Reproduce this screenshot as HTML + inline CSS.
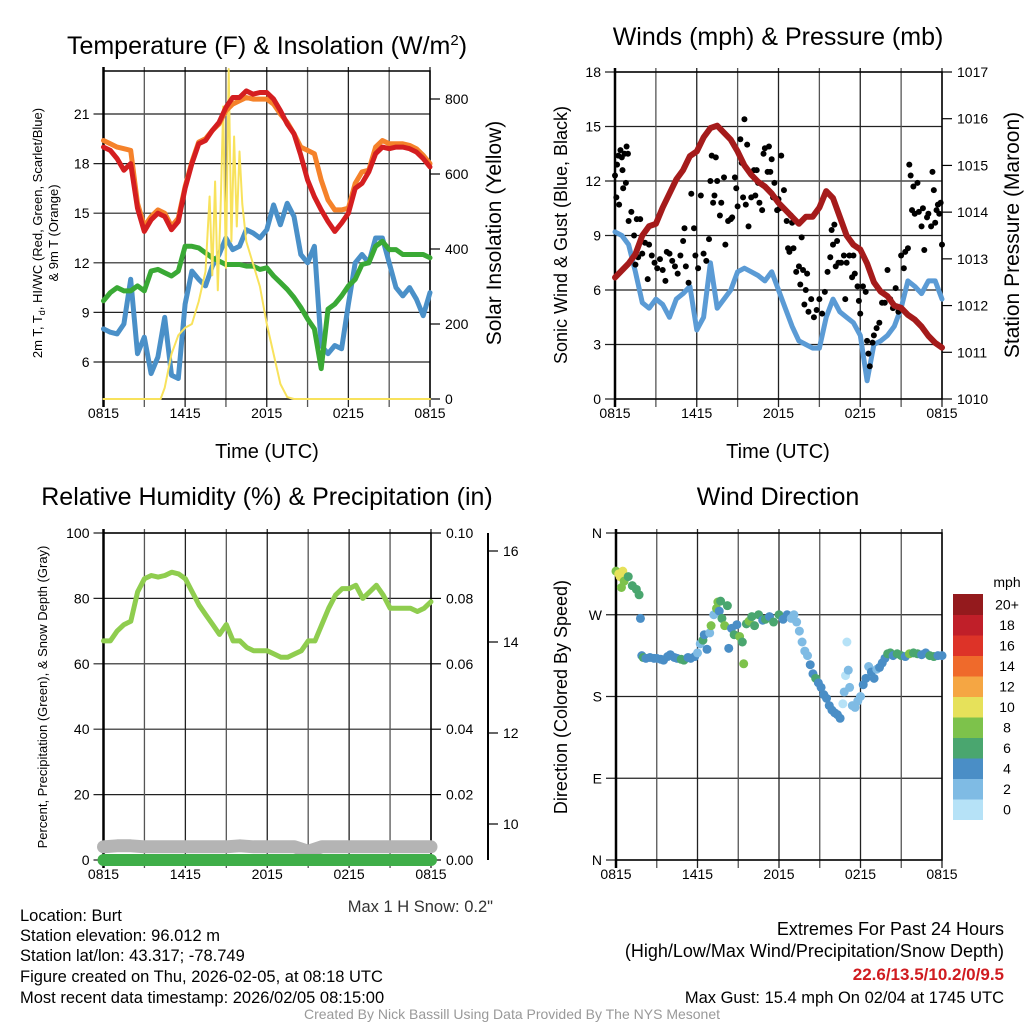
<!DOCTYPE html>
<html><head><meta charset="utf-8"><title>Burt Meteogram</title>
<style>
html,body{margin:0;padding:0;background:#fff;}
svg{display:block;font-family:"Liberation Sans",Arial,sans-serif;}
</style></head>
<body>
<svg id="root" width="1024" height="1024" viewBox="0 0 1024 1024" xmlns="http://www.w3.org/2000/svg">
<rect x="0" y="0" width="1024" height="1024" fill="#fff"/>
<g fill="#000">
<g font-size="16.5" textLength="0">
<text x="20" y="921">Location: Burt</text>
<text x="20" y="941">Station elevation: 96.012 m</text>
<text x="20" y="961">Station lat/lon: 43.317; -78.749</text>
<text x="20" y="982">Figure created on Thu, 2026-02-05, at 08:18 UTC</text>
<text x="20" y="1003">Most recent data timestamp: 2026/02/05 08:15:00</text>
</g>
<g font-size="18">
<text x="1004" y="935" text-anchor="end">Extremes For Past 24 Hours</text>
<text x="1004" y="957" text-anchor="end">(High/Low/Max Wind/Precipitation/Snow Depth)</text>
<text x="1004" y="980" text-anchor="end" fill="#d01c20" font-weight="bold" font-size="17">22.6/13.5/10.2/0/9.5</text>
<text x="1004" y="1003" text-anchor="end" font-size="16.5">Max Gust: 15.4 mph On 02/04 at 1745 UTC</text>
</g>
<text x="493" y="912" text-anchor="end" fill="#333" font-size="16.5">Max 1 H Snow: 0.2"</text>
<text x="512" y="1019" text-anchor="middle" fill="#999" font-size="14">Created By Nick Bassill Using Data Provided By The NYS Mesonet</text>
</g>
</svg>
<script>
// ---------- data ----------
const xTickLabels = ["0815","1415","2015","0215","0815"];
const tempRed = [19.0,18.8,18.3,17.6,18.0,15.3,13.9,14.6,15.0,14.8,14.0,14.5,16.5,18.0,19.2,19.4,20.0,20.5,21.4,22.0,22.0,22.4,22.2,22.3,22.3,21.9,21.2,20.4,19.8,18.5,17.0,16.0,15.2,14.5,13.9,14.4,15.0,16.5,16.8,17.5,18.6,19.0,18.9,19.0,19.0,18.9,18.7,18.3,17.8];
const temp9m = [19.4,19.2,19.0,18.9,18.8,15.6,14.2,14.8,15.2,15.0,14.2,14.7,16.6,18.1,19.3,19.5,20.0,20.4,21.2,21.6,21.8,22.0,21.9,21.9,21.9,21.6,21.0,20.5,19.8,19.0,18.8,18.6,17.0,15.8,15.2,15.2,15.3,16.8,17.5,17.6,19.0,19.4,19.2,19.2,19.2,19.1,18.9,18.5,18.0];
const dewGreen = [9.7,10.2,10.5,10.3,10.3,10.6,10.3,11.5,11.6,11.4,11.2,11.5,13.0,13.0,12.9,12.6,12.3,12.1,11.9,11.9,11.9,11.8,11.8,11.6,11.7,11.2,10.8,10.4,9.9,9.3,8.6,8.0,5.6,9.2,9.5,10.0,10.6,11.0,11.9,12.0,13.0,13.3,12.8,12.8,12.5,12.5,12.5,12.5,12.3];
const windChill = [8.0,7.8,7.7,8.3,11.0,6.5,7.5,5.3,6.3,8.7,5.2,5.0,9.5,11.5,11.0,10.6,11.8,12.5,13.5,12.8,13.0,14.0,13.8,13.5,14.0,15.5,14.3,15.6,14.8,12.5,12.0,13.0,7.0,6.5,7.0,6.8,9.5,12.0,12.5,12.0,13.5,13.5,12.0,10.5,10.0,10.5,9.8,8.8,10.2];
const solarHours = [0,4.2,4.5,5,5.5,6,6.5,7,7.5,7.8,8,8.2,8.4,8.6,8.8,9,9.2,9.4,9.6,9.8,10,10.2,10.5,11,11.5,12,12.5,13,13.5,14,24];
const solarVals = [0,0,30,120,170,190,200,260,340,540,330,580,290,500,780,350,880,420,700,460,660,520,420,360,300,200,120,40,5,0,0];
const windSpeed = [9.2,9.0,8.5,7.0,5.3,5.0,5.5,5.2,4.5,5.5,5.8,6.2,3.8,4.5,7.5,5.0,5.5,6.0,7.0,7.2,7.0,6.8,6.5,7.0,6.0,5.0,4.0,3.2,3.0,2.8,2.8,4.5,5.5,4.8,4.5,4.2,3.5,1.0,3.0,3.2,3.5,4.0,5.0,6.5,6.2,5.8,6.5,6.5,5.5];
const pressure = [1012.6,1012.75,1012.9,1013.1,1013.5,1013.7,1013.75,1014.1,1014.4,1014.7,1014.9,1015.2,1015.3,1015.6,1015.8,1015.85,1015.7,1015.55,1015.3,1015.0,1014.8,1014.65,1014.55,1014.4,1014.2,1014.05,1013.9,1013.75,1013.9,1013.9,1014.1,1014.45,1014.3,1013.9,1013.5,1013.3,1013.2,1012.9,1012.5,1012.3,1012.2,1012.0,1011.95,1011.8,1011.7,1011.55,1011.35,1011.2,1011.1];
const gustHours = [0,0.1,0.15,0.25,0.3,0.4,0.5,0.55,0.6,0.7,0.8,0.85,0.95,1.0,1.2,1.4,1.5,1.6,1.7,1.85,2.0,2.2,2.4,2.5,2.7,2.9,3.1,3.3,3.5,3.7,3.8,4.0,4.2,4.4,4.6,4.8,5.0,5.1,5.2,5.4,5.6,5.8,5.9,6.1,6.3,6.5,6.7,6.9,7.0,7.1,7.2,7.3,7.4,7.5,7.7,7.8,8.0,8.1,8.3,8.5,8.6,8.8,8.9,9.0,9.2,9.3,9.4,9.5,9.6,9.7,9.8,10.0,10.2,10.3,10.4,10.5,10.6,10.8,10.9,11.0,11.2,11.3,11.4,11.5,11.6,11.7,11.9,12.0,12.1,12.2,12.4,12.6,12.7,12.8,12.9,13.0,13.1,13.3,13.5,13.6,13.7,13.8,13.9,14.0,14.1,14.2,14.4,14.6,14.8,15.0,15.2,15.4,15.6,15.8,15.9,16.0,16.1,16.2,16.3,16.4,16.6,16.8,16.9,17.0,17.2,17.4,17.5,17.6,17.8,17.9,18.0,18.2,18.4,18.5,18.6,18.7,18.9,19.0,19.2,19.4,19.6,19.8,20.0,20.2,20.4,20.6,20.8,21.0,21.2,21.3,21.5,21.6,21.7,21.8,21.9,22.0,22.2,22.3,22.5,22.6,22.7,22.9,23.0,23.2,23.3,23.4,23.5,23.6,23.7,23.8,23.9,24.0];
const gustVals = [12.3,11.1,12.9,13.4,10.7,13.7,13.3,12.6,11.6,13.5,11.9,13.9,13.5,9.8,10.3,9.0,7.4,9.9,7.8,9.9,8.0,8.6,6.6,8.5,7.9,7.5,7.2,7.7,7.1,6.5,8.1,8.0,7.6,7.3,6.9,7.9,8.7,9.4,7.3,6.4,11.3,9.4,7.9,7.2,11.2,8.0,7.6,8.8,12.0,13.4,10.8,11.2,13.3,12.0,10.1,10.8,12.2,8.5,9.8,9.9,10.0,12.2,11.6,10.6,14.3,13.0,11.1,15.4,10.7,14.0,9.5,11.1,12.6,11.2,12.6,11.9,10.8,10.4,13.5,13.8,12.5,13.9,12.5,13.2,11.1,11.9,10.4,11.0,10.5,13.4,11.5,9.8,8.3,8.1,10.1,9.7,8.3,7.0,7.3,6.3,8.9,7.1,5.2,6.0,6.9,4.8,5.5,4.5,4.9,5.5,4.7,5.9,7.0,7.8,9.3,8.5,9.6,7.3,8.7,7.5,7.5,7.9,5.5,7.5,7.9,6.7,7.9,6.9,6.2,5.4,4.7,6.2,5.9,3.2,2.5,1.8,3.1,3.5,3.9,4.2,5.3,5.3,7.1,5.5,5.0,6.1,4.8,7.9,7.2,8.1,8.3,12.9,12.3,10.4,11.7,10.2,11.9,10.3,9.5,10.5,8.2,10.0,10.2,9.5,12.5,11.5,9.7,10.4,10.7,10.2,10.8,8.5];
const rhVals = [67,67,70,72,73,82,86,87,86.5,87,88,87.5,86,82,78,75,72,69,72,67,67,65,64,64,64,63,62,62,63,64,67,67,72,77,81,83,83,84,80,82,84,81,77,77,77,77,76,77,79];
const precipVals = [0,0,0,0,0,0,0,0,0,0,0,0,0,0,0,0,0,0,0,0,0,0,0,0,0];
const snowDepth = [9.5,9.52,9.52,9.5,9.5,9.5,9.5,9.5,9.5,9.5,9.52,9.5,9.5,9.5,9.5,9.4,9.5,9.5,9.5,9.5,9.5,9.5,9.5,9.5,9.5];
const dirHours = [0.0,0.2,0.3,0.5,0.6,0.4,0.9,1.2,1.5,1.7,1.8,1.9,2.0,2.2,2.5,2.8,3.0,3.3,3.5,3.8,4.0,4.3,4.5,4.8,5.0,5.3,5.5,5.8,6.0,6.2,6.4,6.5,6.7,6.9,7.0,7.2,7.4,7.5,7.6,7.7,7.8,8.0,8.2,8.3,8.5,8.7,8.9,9.1,9.3,9.4,9.6,9.8,10.0,10.2,10.5,10.8,11.0,11.3,11.6,12.0,12.3,12.6,12.9,13.1,13.3,13.5,13.7,13.9,14.1,14.3,14.5,14.7,14.9,15.1,15.3,15.5,15.7,15.9,16.1,16.3,16.5,16.7,16.8,16.9,17.0,17.1,17.2,17.4,17.6,17.8,18.0,18.2,18.4,18.6,18.8,19.0,19.2,19.4,19.6,19.8,20.0,20.2,20.4,20.7,21.0,21.3,21.6,21.9,22.2,22.5,22.8,23.1,23.4,23.7,24.0];
const dirDeg = [318,315,312,318,307,300,312,302,298,292,266,225,223,222,223,222,222,221,220,224,226,223,222,221,220,223,222,224,228,238,242,248,232,250,258,270,277,284,274,285,266,258,280,233,255,248,259,246,240,216,260,263,268,258,270,264,265,268,262,270,265,270,266,270,262,252,240,230,225,215,205,200,195,190,182,178,170,165,162,160,156,172,185,203,240,209,190,170,168,175,180,193,200,213,207,200,210,212,217,222,227,228,225,227,225,224,227,228,227,226,228,225,224,225,225];
const dirSpeed = [9,10,10,11,8,8,7,6,6,6,4,5,6,5,5,5,5,4,4,4,4,5,5,6,6,5,5,4,3,2,7,4,4,3,8,2,8,8,4,6,6,8,6,4,4,6,5,8,7,8,6,8,6,6,6,5,6,5,6,6,4,4,3,2,3,3,2,2,3,4,4,6,5,4,4,4,4,4,4,4,4,1,2,1,1,2,2,2,2,2,2,4,4,3,4,4,3,4,4,5,6,7,5,6,6,5,8,6,6,5,5,6,6,5,4];
const speedColors = ["#b6e2f7","#7fbbe4","#4a8ec6","#4aa66f","#7dc24b","#e6e15a","#f5a643","#ef6a2b","#dd3328","#c01f29","#941a1d"];
const speedLabels = ["0","2","4","6","8","10","12","14","16","18","20+"];

// ---------- helpers ----------
const NS = "http://www.w3.org/2000/svg";
const root = document.getElementById("root");
function mk(tag, attrs, parent){ const e=document.createElementNS(NS,tag); for(const k in attrs) e.setAttribute(k,attrs[k]); (parent||root).appendChild(e); return e; }
function lin(d0,d1,r0,r1){ return v => r0+(v-d0)*(r1-r0)/(d1-d0); }
function half(i){ return i*0.5; }
function pathFrom(hs, vs, sx, sy){ return vs.map((v,i)=>(i?"L":"M")+sx(hs[i]).toFixed(1)+","+sy(v).toFixed(1)).join(""); }

function frame(p){
  const g = mk("g",{});
  
  
  p.yTicks.forEach(v=>{
    const l = mk("line",{x1:p.x0-10,x2:p.x1,y1:p.sy(v),y2:p.sy(v),stroke:"#222","stroke-width":1.2},g);
    
    
    const t = mk("text",{x:p.x0-14,y:p.sy(v)+5,"text-anchor":"end","font-size":14},g);
    t.textContent = p.yFmt ? p.yFmt(v) : v;
    
    
  });
  for(let h=0; h<=24; h+=3){
    const l = mk("line",{x1:p.sx(h),x2:p.sx(h),y1:p.y0-4,y2:p.y1+8,stroke:(h%6? "#555":"#222"),"stroke-width":1.3},g);
    
    
  }
  xTickLabels.forEach((s,i)=>{
    const t = mk("text",{x:p.sx(i*6),y:p.y1+19,"text-anchor":"middle","font-size":14},g);
    t.textContent = s;
    
    
  });
  const b = mk("rect",{x:p.x0,y:p.y0,width:p.x1-p.x0,height:p.y1-p.y0,fill:"none",stroke:"#000","stroke-width":1.5},g);
  
  
  const lb = mk("line",{x1:p.x0,x2:p.x0,y1:p.y0-4,y2:p.y1+8,stroke:"#000","stroke-width":2.5},g);
  
  
  return g;
}
function rightAxis(x, y0, y1, ticks, sy, fmt, name){
  const g = mk("g",{});
  
  
  ticks.forEach(v=>{
    const l = mk("line",{x1:x,x2:x+10,y1:sy(v),y2:sy(v),stroke:"#000","stroke-width":1.2},g);
    
    
    const t = mk("text",{x:x+15,y:sy(v)+5,"font-size":14},g);
    t.textContent = fmt(v);
    
    
  });
  return g;
}
function title(x,y,txt,name,size){
  const t = mk("text",{x:x,y:y,"text-anchor":"middle","font-size":size||23});
  t.textContent = txt;
  
  
  return t;
}
function vlabel(x,y,txt,name,size){
  const t = mk("text",{x:x,y:y,"text-anchor":"middle","font-size":size,transform:"rotate(-90 "+x+" "+y+")"});
  t.textContent = txt;
  
  
  return t;
}
function line(hs, vs, sx, sy, color, w, name){
  const p = mk("path",{d:pathFrom(hs,vs,sx,sy),fill:"none",stroke:color,"stroke-width":w,"stroke-linejoin":"round","stroke-linecap":"round"});
  
  
  return p;
}
const hh49 = tempRed.map((_,i)=>half(i));

// ---------- Panel 1: temperature ----------
(function(){
  const x0=103.5,x1=430,y0=71,y1=399;
  const sx = lin(0,24,x0,x1), sy = lin(6,21,362,114), sr = lin(0,800,399,99);
  frame({name:"temperature",x0,x1,y0,y1,sx,sy,yTicks:[6,9,12,15,18,21]});
  rightAxis(x1,y0,y1,[0,200,400,600,800],sr,v=>v,"solar-axis");
  const tt = title(267,54,"Temperature (F) & Insolation (W/m","temperature-title",25);
  const sup = mk("tspan",{dy:-9,"font-size":15},tt); sup.textContent="2";
  const cl = mk("tspan",{dy:9},tt); cl.textContent=")";
  line(hh49,windChill,sx,sy,"#4a90c8",5,"windchill-line");
  line(hh49,dewGreen,sx,sy,"#3aa935",5,"dewpoint-line");
  line(solarHours,solarVals,sx,sr,"#f8e25c",2,"solar-line");
  line(hh49,temp9m,sx,sy,"#f5822a",5,"temp-9m-line");
  line(hh49,tempRed,sx,sy,"#d41e20",5,"temp-2m-line");
  title(267,458,"Time (UTC)","temperature-x-title",20);
  const yl = vlabel(42,233,"2m T, T","temperature-y-title",13);
  const sd = mk("tspan",{dy:3,"font-size":9},yl); sd.textContent="d";
  const rest = mk("tspan",{dy:-3},yl); rest.textContent=", HI/WC (Red, Green, Scarlet/Blue)";
  vlabel(58,233,"& 9m T (Orange)","temperature-y-title-2",13);
  vlabel(501,233,"Solar Insolation (Yellow)","solar-y-title",21);
})();

// ---------- Panel 2: winds ----------
(function(){
  const x0=615,x1=942,y0=72,y1=399;
  const sx = lin(0,24,x0,x1), sy = lin(0,18,399,72), sp = lin(1010,1017,399,72);
  frame({name:"winds",x0,x1,y0,y1,sx,sy,yTicks:[0,3,6,9,12,15,18]});
  rightAxis(x1,y0,y1,[1010,1011,1012,1013,1014,1015,1016,1017],sp,v=>v,"pressure-axis");
  title(778,45,"Winds (mph) & Pressure (mb)","winds-title",25);
  line(hh49,windSpeed,sx,sy,"#5b9bd5",5,"wind-speed-line");
  const g = mk("g",{});
  
  
  gustVals.forEach((v,i)=>{
    const c = mk("circle",{cx:sx(gustHours[i]),cy:sy(v),r:3,fill:"#000"},g);
    
    
  });
  line(hh49,pressure,sx,sp,"#a51b1b",6,"pressure-line");
  title(778,458,"Time (UTC)","winds-x-title",20);
  vlabel(567,235,"Sonic Wind & Gust (Blue, Black)","winds-y-title",18);
  vlabel(1019,235,"Station Pressure (Maroon)","pressure-y-title",21);
})();

// ---------- Panel 3: humidity ----------
(function(){
  const x0=103.5,x1=431,y0=533,y1=860;
  const sx = lin(0,24,x0,x1), sy = lin(0,100,860,533), spr = lin(0,0.1,860,533), ss = lin(10,16,824,551);
  frame({name:"humidity",x0,x1,y0,y1,sx,sy,yTicks:[0,20,40,60,80,100]});
  rightAxis(x1,y0,y1,[0,0.02,0.04,0.06,0.08,0.1],spr,v=>v.toFixed(2),"precip-axis");
  const ax = mk("line",{x1:488,x2:488,y1:533,y2:860,stroke:"#000","stroke-width":2});
  
  
  rightAxis(488,y0,y1,[10,12,14,16],ss,v=>v,"snow-axis");
  title(267,505,"Relative Humidity (%) & Precipitation (in)","humidity-title",25);
  const hh25 = snowDepth.map((_,i)=>i);
  line(hh25,snowDepth,sx,ss,"#b4b4b4",13,"snow-depth-line");
  line(hh25,precipVals,sx,spr,"#3fae49",12,"precip-line");
  line(hh49,rhVals,sx,sy,"#8fcd4f",5,"rh-line");
  vlabel(47,697,"Percent, Precipitation (Green), & Snow Depth (Gray)","humidity-y-title",13);
})();

// ---------- Panel 4: wind direction ----------
(function(){
  const x0=616,x1=942,y0=533,y1=860;
  const sx = lin(0,24,x0,x1), sy = lin(0,360,860,533);
  frame({name:"direction",x0,x1,y0,y1,sx,sy,yTicks:[0,90,180,270,360],yFmt:v=>({0:"N",90:"E",180:"S",270:"W",360:"N"})[v]});
  title(778,505,"Wind Direction","direction-title",25);
  vlabel(567,697,"Direction (Colored By Speed)","direction-y-title",18);
  const g = mk("g",{});
  
  
  dirDeg.forEach((d,i)=>{
    const k = Math.min(10, Math.floor(dirSpeed[i]/2));
    const c = mk("circle",{cx:sx(dirHours[i]),cy:sy(d),r:4.5,fill:speedColors[k]},g);
    
    
  });
  const lg = mk("g",{});
  
  
  const bh = 20.5;
  speedColors.forEach((c,i)=>{
    const yy = 594 + (10-i)*bh;
    const r = mk("rect",{x:953,y:yy,width:30,height:bh+0.5,fill:c},lg);
    
    
    const t = mk("text",{x:1007,y:yy+bh/2+5,"text-anchor":"middle","font-size":14},lg);
    t.textContent = speedLabels[i];
    
    
  });
  const u = mk("text",{x:1007,y:587,"text-anchor":"middle","font-size":14},lg);
  u.textContent = "mph";
  
  
})();
</script>
</body></html>
